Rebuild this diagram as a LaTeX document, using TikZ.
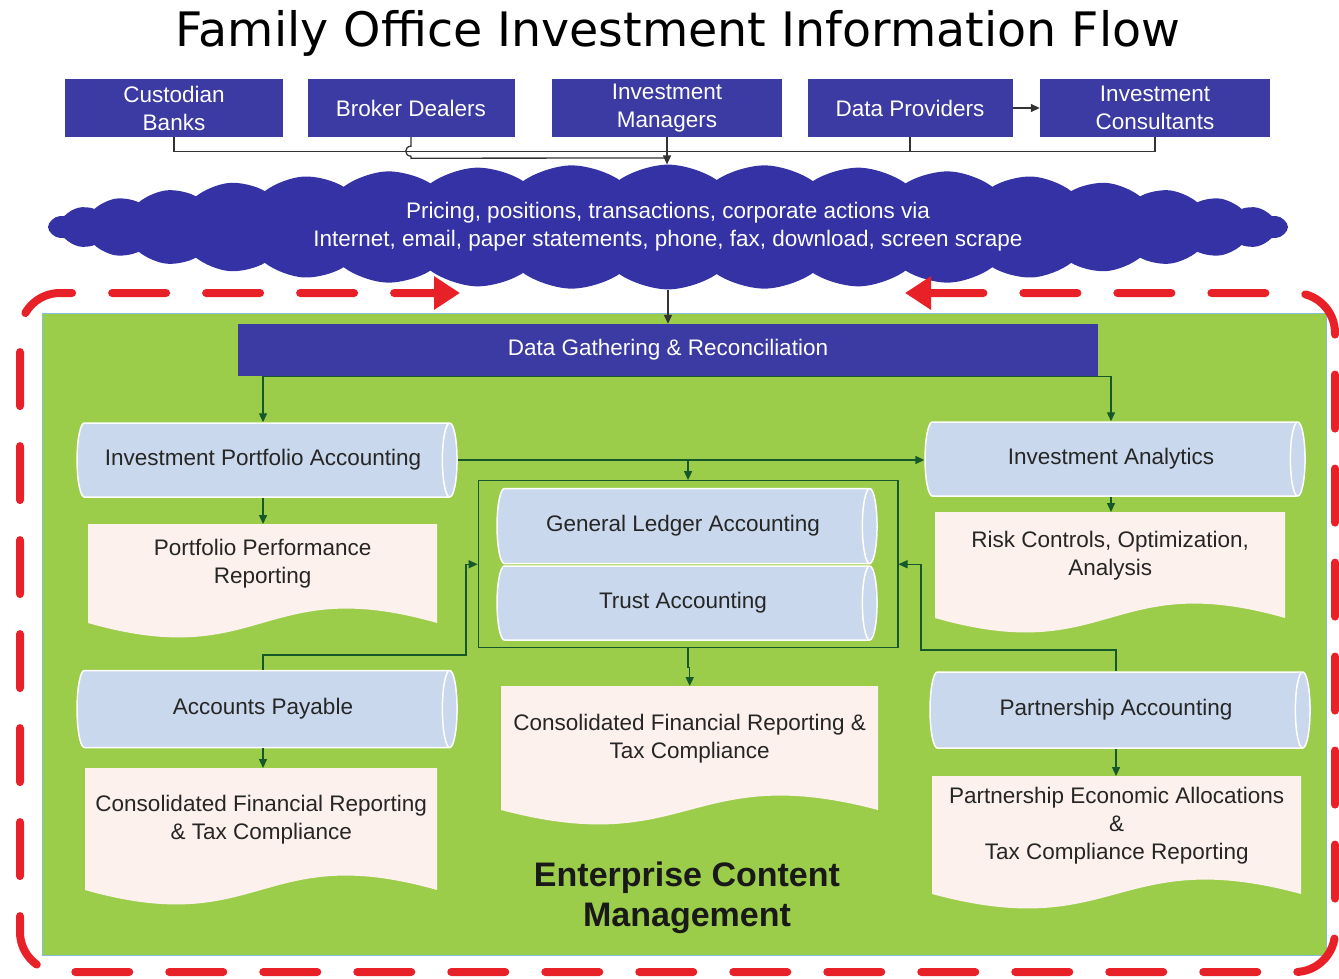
\documentclass[tikz,border=0pt]{standalone}
\usepackage{fontspec}
\setmainfont{Liberation Sans}
\newfontfamily\titlefont{DejaVu Sans}
\usetikzlibrary{shapes.geometric,shapes.symbols,arrows.meta,fit}

\definecolor{boxblue}{RGB}{60,58,163}
\definecolor{cloudblue}{RGB}{52,50,165}
\definecolor{ecmgreen}{RGB}{155,204,74}
\definecolor{linkgreen}{RGB}{22,88,42}
\definecolor{cylblue}{RGB}{201,216,237}
\definecolor{docpink}{RGB}{252,241,236}
\definecolor{loopred}{RGB}{232,32,40}
\definecolor{edgeblue}{RGB}{135,190,215}

\tikzset{
  body/.style     = {font=\fontsize{22.5}{28}\selectfont, align=center},
  source/.style   = {body, shape=rectangle, fill=boxblue, text=white,
                     minimum height=58pt, inner sep=2pt},
  % cylinder: height runs along the axis, width across it
  ledger/.style   = {body, shape=cylinder, shape aspect=0.7, draw=white,
                     line width=1.5pt, fill=cylblue, text=black!85,
                     minimum height=380pt, minimum width=74pt, inner sep=0pt},
  report/.style   = {body, shape=rectangle, anchor=north west, text=black!85},
  cloudbank/.style= {body, cloud, cloud puffs=40, cloud puff arc=70,
                     aspect=10, fill=cloudblue, text=white, inner sep=0pt,
                     minimum width=1240pt, minimum height=118pt},
  link/.style     = {draw=black!80, line width=1.3pt,
                     -{Triangle[length=9pt,width=8pt]}},
  flow/.style     = {draw=linkgreen, line width=1.4pt,
                     -{Triangle[length=9pt,width=8pt]}},
  cycleline/.style= {draw=loopred, line width=8pt, line cap=round,
                     dash pattern=on 54pt off 40pt, rounded corners=40pt}
}

% document shape: #1 name, #2 x, #3 y, #4 width, #5 height, #6 text
\newcommand\report[6]{%
  \fill[docpink] (#2,#3) -- (#2+#4,#3) -- (#2+#4,#3+#5)
    .. controls (#2+#4/2,#3+#5-50) and (#2+#4/2,#3+#5+50) .. (#2,#3+#5) -- cycle;
  \node[report, minimum width=#4pt, minimum height=#5pt-20pt] (#1) at (#2,#3) {#6};}

\begin{document}
\begin{tikzpicture}[x=1pt,y=-1pt]
  \useasboundingbox (0,0) rectangle (1339,978);

  \node[font=\titlefont\fontsize{47.5}{50}\selectfont] (title) at (678,33)
    {Family Office Investment Information Flow};

  % sources
  \node[source, minimum width=218pt] (custodian) at (174,108) {Custodian\\Banks};
  \node[source, minimum width=207pt] (broker)    at (411,108) {Broker Dealers};
  \node[source, minimum width=230pt] (invmgr)    at (667,108) {Investment\\Managers};
  \node[source, minimum width=205pt] (datapro)   at (910,108) {Data Providers};
  \node[source, minimum width=230pt] (invcons)   at (1155,108) {Investment\\Consultants};

  \node[cloudbank] (cloud) at (668,227)
    {Pricing, positions, transactions, corporate actions via\\
     Internet, email, paper statements, phone, fax, download, screen scrape};

  \draw[link,-] (custodian.south) -- ++(0,14) -| (invcons.south);
  \draw[link,-] (datapro.south) -- ++(0,14);
  \draw[link,-] (broker.south) -- ++(0,9) .. controls +(-7,0) and +(-7,0) .. ++(0,10)
    -- ++(0,2) -- (invmgr.south |- 0,158);
  \draw[link] (invmgr.south) -- (invmgr.south |- cloud.north);
  \draw[link] (datapro.east) -- (invcons.west);

  % enterprise content management area
  \fill[ecmgreen, draw=edgeblue, line width=1pt] (42,313) rectangle (1326,955);
  \draw[cycleline, {Triangle[length=26pt,width=32pt]}-{Triangle[length=26pt,width=32pt]}]
    (905,293) -- (1335,293) -- (1335,972) -- (20,972) -- (20,293) -- (460,293);

  \node[source, minimum width=860pt, minimum height=52pt] (dg) at (668,350)
    {Data Gathering \& Reconciliation};
  \draw[link] (cloud.south) -- (dg.north);

  \node[ledger] (ipa) at (263,460) {Investment Portfolio Accounting};
  \node[ledger] (ia)  at (1111,459) {Investment Analytics};
  \node[ledger, minimum width=75pt] (gla) at (683,526) {General Ledger Accounting};
  \node[ledger] (ta)  at (683,603) {Trust Accounting};
  \node[ledger, minimum width=77pt] (ap) at (263,709) {Accounts Payable};
  \node[ledger, minimum width=76pt] (pa) at (1116,710) {Partnership Accounting};
  \node[draw=linkgreen, line width=1.4pt, fit=(gla)(ta), inner xsep=19pt,
        inner ysep=7pt, xshift=1pt] (glframe) {};

  \report{ppr}{88}{524}{349}{99}{Portfolio Performance\\Reporting}
  \report{rca}{935}{512}{350}{106}{Risk Controls, Optimization,\\Analysis}
  \report{cfr}{501}{686}{377}{124}{Consolidated Financial Reporting \&\\Tax Compliance}
  \report{cfrap}{85}{768}{352}{122}{Consolidated Financial Reporting\\\& Tax Compliance}
  \report{pea}{932}{776}{369}{118}{Partnership Economic Allocations\\\&\\Tax Compliance Reporting}

  \node[font=\bfseries\fontsize{34}{40}\selectfont, align=center, text=black!90]
    (ecm) at (687,898) {Enterprise Content\\Management};

  \coordinate (apjoint) at (466,655);
  \coordinate (pajoint) at (921,650);

  \draw[flow] (dg.south) -| (ipa.north);
  \draw[flow] (dg.south) -| (ia.north);
  \draw[flow] (ipa.east) -- (ipa.east -| ia.west);
  \draw[flow] (ipa.east -| glframe.north) -- (glframe.north);
  \draw[flow] (ipa.south) -- (ipa.south |- ppr.north);
  \draw[flow] (ia.south) -- (ia.south |- rca.north);
  \draw[flow] (ap.north) |- (apjoint) |- (glframe.west);
  \draw[flow] (pa.north) |- (pajoint) |- (glframe.east);
  \draw[flow] (glframe.south) -- ++(0,19) -| (cfr.north);
  \draw[flow] (ap.south) -- (ap.south |- cfrap.north);
  \draw[flow] (pa.south) -- (pa.south |- pea.north);
\end{tikzpicture}
\end{document}
